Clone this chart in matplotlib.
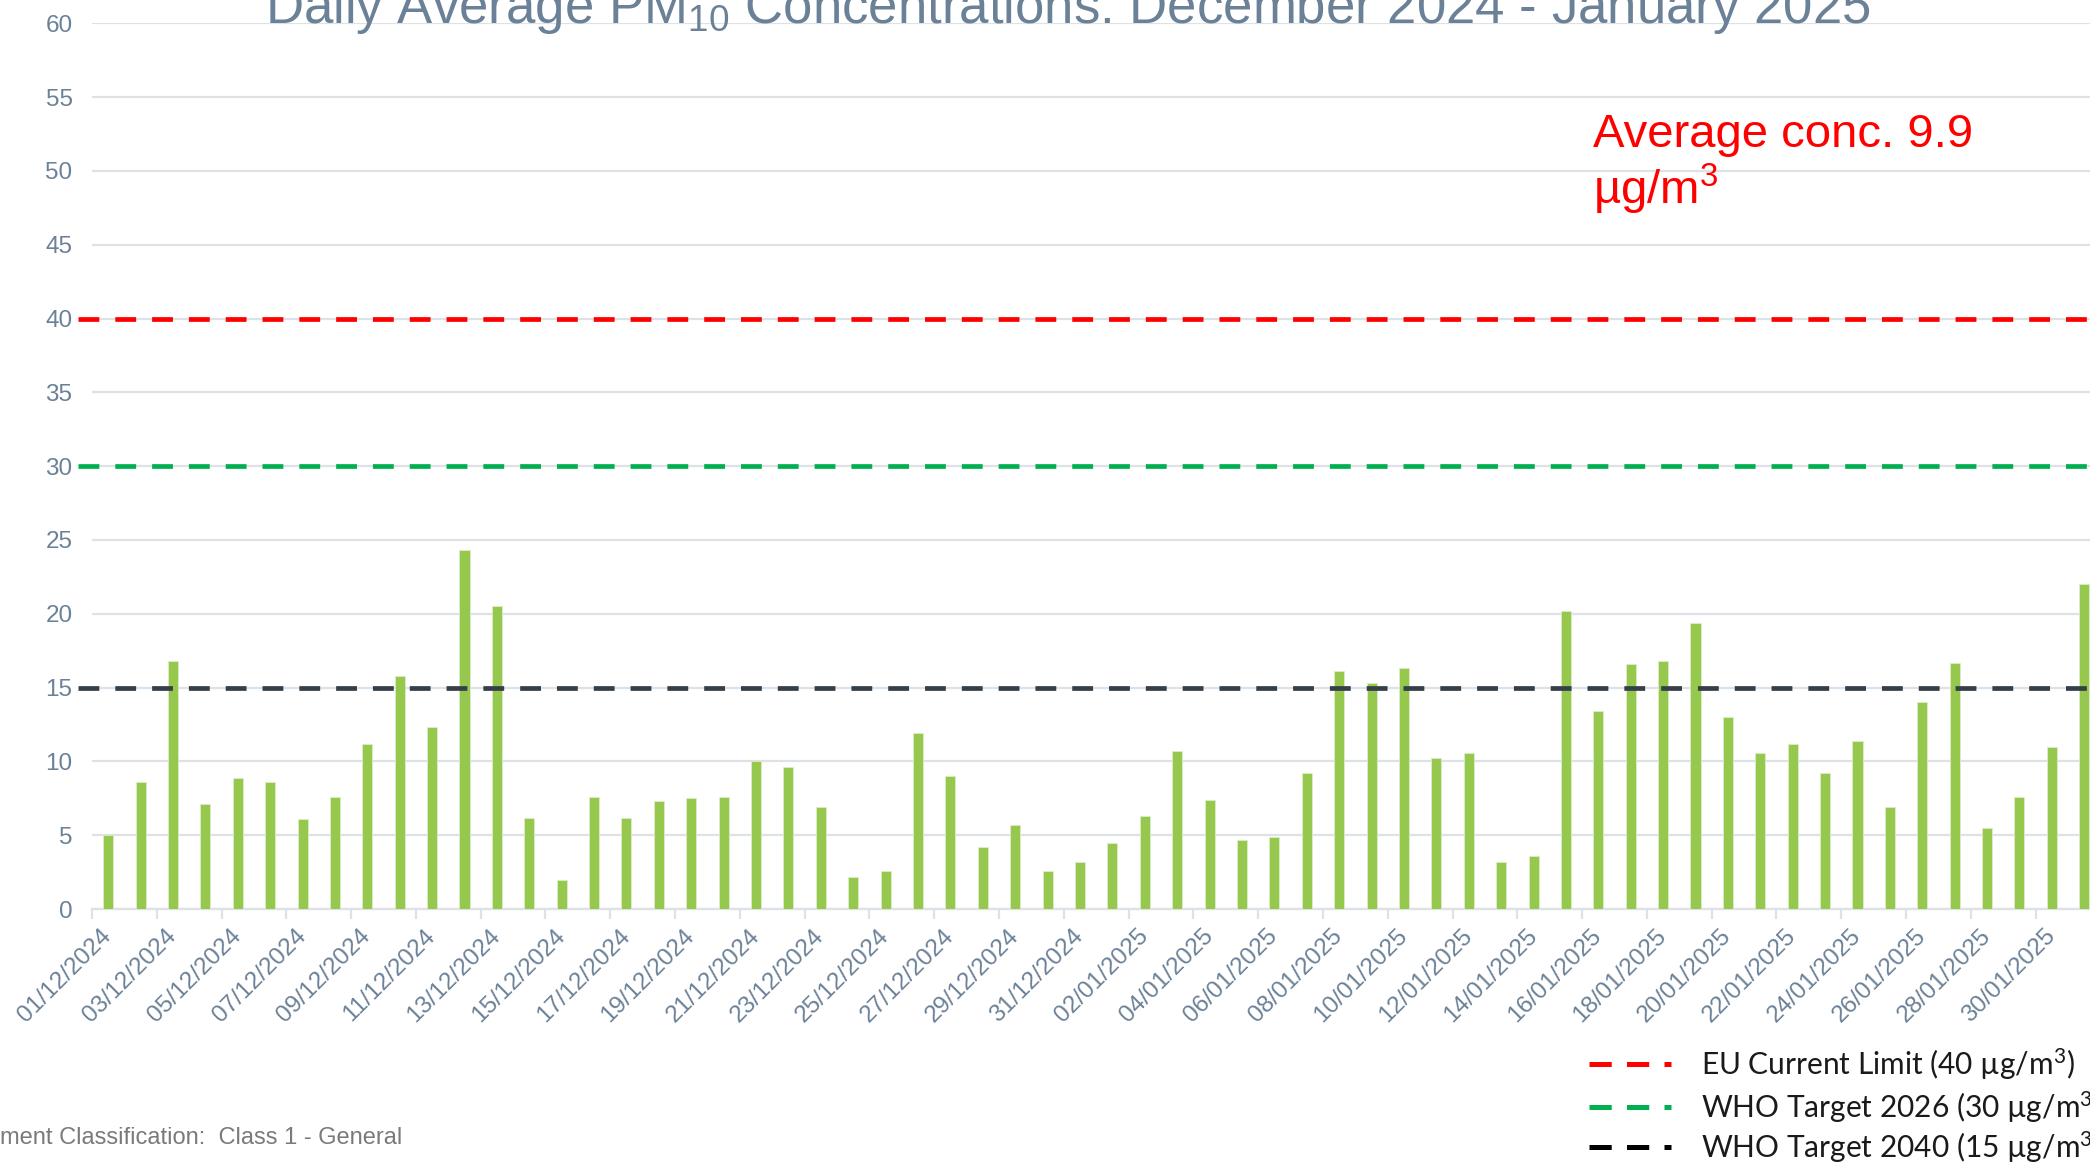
import numpy as np
import pandas as pd
import matplotlib
matplotlib.use('Agg')
import matplotlib.pyplot as plt
from matplotlib.lines import Line2D

# daily PM10 (ug/m3), 01/12/2024 - 31/01/2025
dec_pm10 = [5.0, 8.6, 16.8, 7.1, 8.9, 8.6, 6.1, 7.6, 11.2, 15.8,
            12.3, 24.3, 20.5, 6.2, 2.0, 7.6, 6.2, 7.3, 7.5, 7.6,
            10.0, 9.6, 6.9, 2.2, 2.6, 11.9, 9.0, 4.2, 5.7, 2.6, 3.2]
jan_pm10 = [4.5, 6.3, 10.7, 7.4, 4.7, 4.9, 9.2, 16.1, 15.3, 16.3,
            10.2, 10.6, 3.2, 3.6, 20.2, 13.4, 16.6, 16.8, 19.4, 13.0,
            10.6, 11.2, 9.2, 11.4, 6.9, 14.0, 16.7, 5.5, 7.6, 11.0, 22.0]
pm10 = dec_pm10 + jan_pm10
dates = pd.date_range('2024-12-01', '2025-01-31').strftime('%d/%m/%Y').tolist()

limit_values = [40, 30, 15]
limit_colors = ['#FF0000', '#00B050', '#353F4A']
legend_colors = ['#FF0000', '#00B050', '#000000']
limit_labels = ['EU Current Limit (40 \u00b5g/m$^3$)',
                'WHO Target 2026 (30 \u00b5g/m$^3$)',
                'WHO Target 2040 (15 \u00b5g/m$^3$)']

slate = '#6B8197'
grid_col = '#DDE2E7'
bar_col = '#95C84D'

plt.rcParams['font.family'] = ['Liberation Sans', 'DejaVu Sans']
plt.rcParams['mathtext.default'] = 'regular'
plt.rcParams['lines.scale_dashes'] = False

fig = plt.figure(figsize=(20.9, 11.64), dpi=100)
ax = fig.add_axes([0.044, 0.219, 0.961, 0.761])

x = np.arange(len(pm10))
ax.bar(x, pm10, width=0.31, color=bar_col, edgecolor='#DDEDC8', linewidth=0.6, zorder=3)

for v, c in zip(limit_values, limit_colors):
    ax.axhline(v, xmin=-0.007, xmax=1, color=c, lw=3.4, dashes=(15, 11.5),
               clip_on=False, zorder=4)

ax.set_xlim(-0.5, len(pm10) - 0.5)
ax.set_ylim(0, 60)
ax.set_yticks(np.arange(0, 61, 5))
ax.yaxis.grid(True, color=grid_col, lw=1.6, zorder=0)
ax.tick_params(axis='y', length=0, pad=14, labelsize=17.5, labelcolor=slate)

ax.set_xticks(np.arange(-0.5, len(pm10), 2))
ax.set_xticklabels([])
ax.tick_params(axis='x', which='major', length=7, width=1.6, color=grid_col)
ax.set_xticks(x[::2], minor=True)
ax.set_xticklabels(dates[::2], minor=True, rotation=45, ha='right', va='center',
                   rotation_mode='anchor', fontsize=17.5, color=slate)
ax.tick_params(axis='x', which='minor', length=0, pad=17)

for s in ['top', 'right', 'left']:
    ax.spines[s].set_visible(False)
ax.spines['bottom'].set_color(grid_col)
ax.spines['bottom'].set_linewidth(1.6)

fig.text(0.511, 1 - 23 / 1164, 'Daily Average PM$_{10}$ Concentrations: December 2024 - January 2025',
         ha='center', va='baseline', fontsize=38, color=slate)

fig.text(1593 / 2090, 1 - 147 / 1164, 'Average conc. 9.9', ha='left', va='baseline',
         fontsize=34, color='#FF0000')
fig.text(1593 / 2090, 1 - 204 / 1164, '\u00b5g/m$^3$', ha='left', va='baseline',
         fontsize=34, color='#FF0000')

# legend drawn as in the source slide
rows_y = [1064, 1107, 1147]
for yy, c, lab in zip(rows_y, legend_colors, limit_labels):
    fy = 1 - yy / 1164
    fig.add_artist(Line2D([1589 / 2090, 1671 / 2090], [fy, fy], color=c,
                          lw=3.6, dashes=(16, 11), transform=fig.transFigure))
    fig.text(1701 / 2090, fy, lab, ha='left', va='center', fontsize=21.5,
             color='#1A1A1A', family=['Lato', 'DejaVu Sans'])

fig.text(0.0, 1 - 1144 / 1164, 'ment Classification:  Class 1 - General', ha='left',
         va='baseline', fontsize=17, color='#7A7A7A')

fig.savefig('out.png', dpi=100)
